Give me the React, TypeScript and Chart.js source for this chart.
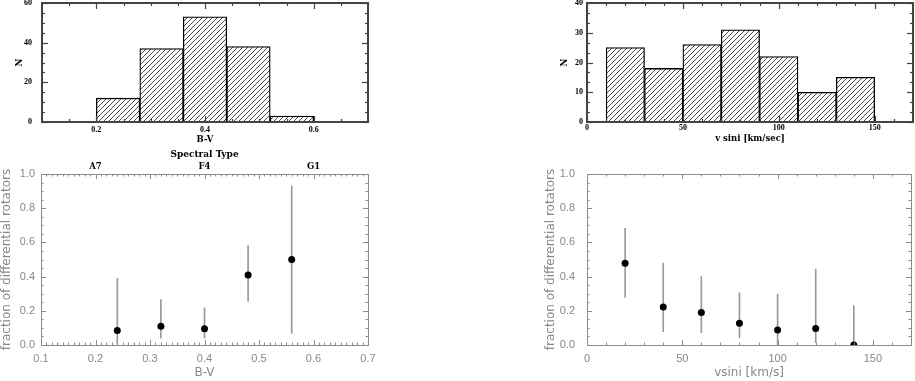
import React, { useEffect, useRef } from 'react';
import { Chart, registerables } from 'chart.js';

Chart.register(...registerables);

const PAGE_W = 915;
const PAGE_H = 381;

// ---- Histogram data ----
const bvBinCenters = [0.16, 0.24, 0.32, 0.4, 0.48, 0.56];
const bvBinCounts = [0, 12, 37, 53, 38, 3];
const vsiniBinCenters = [20, 40, 60, 80, 100, 120, 140];
const vsiniBinCounts = [25, 18, 26, 31, 22, 10, 15];

// ---- Fraction of differential rotators ----
const bvPoints = [0.24, 0.32, 0.4, 0.48, 0.56];
const bvFraction = [0.085, 0.11, 0.095, 0.41, 0.5];
const bvErrLow = [0.01, 0.04, 0.04, 0.255, 0.068];
const bvErrHigh = [0.39, 0.265, 0.217, 0.582, 0.93];

const vsiniPoints = [20, 40, 60, 80, 100, 120, 140];
const vsiniFraction = [0.478, 0.222, 0.19, 0.127, 0.088, 0.097, 0.0];
const vsiniErrLow = [0.279, 0.078, 0.072, 0.043, 0.0, 0.014, 0.0];
const vsiniErrHigh = [0.682, 0.478, 0.4, 0.306, 0.298, 0.444, 0.23];

// ---- Tick labels ----
const histBvTicks = [0.2, 0.4, 0.6];
const histBvCountTicks = [0, 20, 40, 60];
const histVsiniTicks = [0, 50, 100, 150];
const histVsiniCountTicks = [0, 10, 20, 30, 40];
const bvTicks = [0.1, 0.2, 0.3, 0.4, 0.5, 0.6, 0.7];
const vsiniTicks = [0, 50, 100, 150];
const fractionTicks = [0, 0.2, 0.4, 0.6, 0.8, 1.0];
const spectralTypes = ['A7', 'F4', 'G1'];
const spectralTypeBv = [0.2, 0.4, 0.6];

const serifTick = { family: '"Liberation Serif", serif', size: 8, weight: 'bold' as const };
const serifTitle = { family: '"DejaVu Serif", serif', size: 8.5, weight: 'bold' as const };
const serifTop = { family: '"DejaVu Serif", serif', size: 9, weight: 'bold' as const };
const sansTick = { family: '"Liberation Sans", sans-serif', size: 11 };
const sansTitle = { family: '"DejaVu Sans", sans-serif', size: 12 };
const GRAY = '#888888';

function makeAxis(p: any) {
  const vertical = p.position === 'left' || p.position === 'right';
  return {
    type: 'linear',
    position: p.position,
    min: p.min,
    max: p.max,
    offset: false,
    grid: { display: false, drawTicks: false },
    border: { display: false },
    afterBuildTicks: (s: any) => {
      s.ticks = p.ticks.map((v: number) => ({ value: v }));
    },
    afterFit: (s: any) => {
      if (vertical) s.width = p.size;
      else s.height = p.size;
      s.paddingLeft = 0;
      s.paddingRight = 0;
      s.paddingTop = 0;
      s.paddingBottom = 0;
    },
    ticks: {
      autoSkip: false,
      maxRotation: 0,
      minRotation: 0,
      padding: p.pad,
      font: p.font,
      color: p.color,
      callback: (v: number, i: number) => (p.labels ? p.labels[i] : p.fmt(v)),
    },
    title: p.title
      ? { display: true, text: p.title, font: p.titleFont, color: p.color, padding: p.titlePad }
      : { display: false },
  };
}

const idlFrame = {
  id: 'idlFrame',
  afterDatasetsDraw(chart: any, _args: any, o: any) {
    const { ctx, chartArea: a } = chart;
    const xs = chart.scales.x;
    const ys = chart.scales.y;
    ctx.save();
    ctx.strokeStyle = o.color;
    ctx.lineWidth = o.tickWidth;
    const seg = (x1: number, y1: number, x2: number, y2: number) => {
      ctx.beginPath();
      ctx.moveTo(x1, y1);
      ctx.lineTo(x2, y2);
      ctx.stroke();
    };
    const isMajor = (v: number, major: number) => Math.abs(v / major - Math.round(v / major)) < 1e-6;
    const each = (sc: any, step: number, major: number, fn: (p: number, len: number) => void) => {
      const start = Math.ceil(sc.min / step - 1e-6);
      for (let k = start; k * step <= sc.max + 1e-9; k++) {
        const v = k * step;
        const px = Math.round(sc.getPixelForValue(v)) + 0.5;
        fn(px, isMajor(v, major) ? o.majorLen : o.minorLen);
      }
    };
    each(xs, o.xMinor, o.xMajor, (px, len) => {
      seg(px, a.bottom, px, a.bottom - len);
      seg(px, a.top, px, a.top + len);
    });
    each(ys, o.yMinor, o.yMajor, (py, len) => {
      seg(a.left, py, a.left + len, py);
      seg(a.right, py, a.right - len, py);
    });
    ctx.lineWidth = o.frameWidth;
    const off = o.frameWidth % 2 === 1 ? 0.5 : 0;
    ctx.strokeRect(
      Math.round(a.left) + off,
      Math.round(a.top) + off,
      Math.round(a.right) - Math.round(a.left),
      Math.round(a.bottom) - Math.round(a.top)
    );
    ctx.restore();
  },
};

function hatchPattern(): CanvasPattern | string {
  const c = document.createElement('canvas');
  c.width = 5;
  c.height = 5;
  const g = c.getContext('2d');
  if (!g) return '#fff';
  g.fillStyle = '#fff';
  g.fillRect(0, 0, 5, 5);
  g.strokeStyle = '#000';
  g.lineWidth = 0.7;
  g.beginPath();
  g.moveTo(0, 5);
  g.lineTo(5, 0);
  g.moveTo(-1, 1);
  g.lineTo(1, -1);
  g.moveTo(4, 6);
  g.lineTo(6, 4);
  g.stroke();
  const p = g.createPattern(c, 'repeat');
  return p || '#fff';
}

function histConfig(kind: 'bv' | 'vsini') {
  const isBv = kind === 'bv';
  const centers = isBv ? bvBinCenters : vsiniBinCenters;
  const counts = isBv ? bvBinCounts : vsiniBinCounts;
  return {
    type: 'bar',
    data: {
      datasets: [
        {
          data: centers.map((c, i) => ({ x: c, y: counts[i] })),
          backgroundColor: hatchPattern(),
          borderColor: '#000',
          borderWidth: 1.3,
          barPercentage: 1,
          categoryPercentage: 1,
        },
      ],
    },
    options: {
      responsive: false,
      animation: false,
      events: [],
      layout: {
        padding: isBv
          ? { left: 0, top: 3, right: 547, bottom: PAGE_H - 122 - 23 }
          : { left: 557, top: 3, right: 2, bottom: PAGE_H - 122 - 22 },
      },
      plugins: {
        legend: { display: false },
        tooltip: { enabled: false },
        idlFrame: isBv
          ? { xMinor: 0.05, xMajor: 0.2, yMinor: 5, yMajor: 20, majorLen: 6, minorLen: 3, color: '#444', tickWidth: 1.2, frameWidth: 2 }
          : { xMinor: 10, xMajor: 50, yMinor: 10 / 3, yMajor: 10, majorLen: 6, minorLen: 3, color: '#444', tickWidth: 1.2, frameWidth: 2 },
      },
      scales: {
        x: makeAxis({
          position: 'bottom',
          min: isBv ? 0.1 : 0,
          max: isBv ? 0.7 : 170,
          ticks: isBv ? histBvTicks : histVsiniTicks,
          fmt: isBv ? (v: number) => v.toFixed(1) : (v: number) => String(v),
          size: isBv ? 23 : 22,
          pad: isBv ? 3.5 : 1.5,
          font: serifTick,
          color: '#000',
          title: isBv ? 'B-V' : 'v sini [km/sec]',
          titleFont: serifTitle,
          titlePad: { top: 0, bottom: 0 },
        }),
        y: makeAxis({
          position: 'left',
          min: 0,
          max: isBv ? 60 : 40,
          ticks: isBv ? histBvCountTicks : histVsiniCountTicks,
          fmt: (v: number) => String(v),
          size: isBv ? 42 : 30,
          pad: isBv ? 10 : 4,
          font: serifTick,
          color: '#000',
          title: 'N',
          titleFont: serifTitle,
          titlePad: { top: isBv ? 14.9 : 2.9, bottom: 0 },
        }),
      },
    },
    plugins: [idlFrame],
  };
}

function fractionConfig(kind: 'bv' | 'vsini') {
  const isBv = kind === 'bv';
  const xs = isBv ? bvPoints : vsiniPoints;
  const ys = isBv ? bvFraction : vsiniFraction;
  const lo = isBv ? bvErrLow : vsiniErrLow;
  const hi = isBv ? bvErrHigh : vsiniErrHigh;
  const scales: any = {
    x: makeAxis({
      position: 'bottom',
      min: isBv ? 0.1 : 0,
      max: isBv ? 0.7 : 170,
      ticks: isBv ? bvTicks : vsiniTicks,
      fmt: isBv ? (v: number) => v.toFixed(1) : (v: number) => String(v),
      size: 35,
      pad: 7,
      font: sansTick,
      color: GRAY,
      title: isBv ? 'B-V' : 'vsini [km/s]',
      titleFont: sansTitle,
      titlePad: { top: 0, bottom: 0 },
    }),
    y: makeAxis({
      position: 'left',
      min: 0,
      max: 1,
      ticks: fractionTicks,
      fmt: (v: number) => v.toFixed(1),
      size: isBv ? 41 : 46,
      pad: isBv ? 6 : 12,
      font: sansTick,
      color: GRAY,
      title: 'fraction of differential rotators',
      titleFont: sansTitle,
      titlePad: { top: isBv ? 0 : 2.8, bottom: 0 },
    }),
  };
  if (isBv) {
    scales.x2 = makeAxis({
      position: 'top',
      min: 0.1,
      max: 0.7,
      ticks: spectralTypeBv,
      labels: spectralTypes,
      size: 25,
      pad: 1.9,
      font: serifTitle,
      color: '#000',
      title: 'Spectral Type',
      titleFont: serifTop,
      titlePad: { top: 0.6, bottom: 0 },
    });
  }
  return {
    type: 'scatter',
    data: {
      datasets: [
        {
          type: 'scatter',
          order: 0,
          data: xs.map((x, i) => ({ x, y: ys[i] })),
          pointRadius: 3.5,
          pointBackgroundColor: '#000',
          pointBorderWidth: 0,
          clip: 0,
        },
        {
          type: 'bar',
          order: 1,
          data: xs.map((x, i) => ({ x, y: [lo[i], hi[i]] })),
          backgroundColor: '#999999',
          borderWidth: 0,
          barThickness: 1,
          grouped: false,
        },
      ],
    },
    options: {
      responsive: false,
      animation: false,
      events: [],
      layout: {
        padding: isBv
          ? { left: 0, top: 149, right: 547, bottom: 1 }
          : { left: 541, top: 174, right: 2, bottom: 1 },
      },
      plugins: {
        legend: { display: false },
        tooltip: { enabled: false },
        idlFrame: isBv
          ? { xMinor: 0.01, xMajor: 0.1, yMinor: 0.05, yMajor: 0.2, majorLen: 5, minorLen: 2.5, color: '#8c8c8c', tickWidth: 1, frameWidth: 1 }
          : { xMinor: 10, xMajor: 50, yMinor: 0.05, yMajor: 0.2, majorLen: 5, minorLen: 2.5, color: '#8c8c8c', tickWidth: 1, frameWidth: 1 },
      },
      scales,
    },
    plugins: [idlFrame],
  };
}

function Panel({ make }: { make: () => any }) {
  const ref = useRef<HTMLCanvasElement | null>(null);
  useEffect(() => {
    if (!ref.current) return;
    const chart = new Chart(ref.current, make());
    return () => chart.destroy();
  }, []);
  return (
    <canvas
      ref={ref}
      width={PAGE_W}
      height={PAGE_H}
      style={{ position: 'absolute', left: 0, top: 0, width: PAGE_W, height: PAGE_H }}
    />
  );
}

export default function App() {
  return (
    <div
      style={{
        position: 'fixed',
        left: 0,
        top: 0,
        width: PAGE_W,
        height: PAGE_H,
        background: '#fff',
        overflow: 'hidden',
      }}
    >
      <Panel make={() => histConfig('bv')} />
      <Panel make={() => histConfig('vsini')} />
      <Panel make={() => fractionConfig('bv')} />
      <Panel make={() => fractionConfig('vsini')} />
    </div>
  );
}
